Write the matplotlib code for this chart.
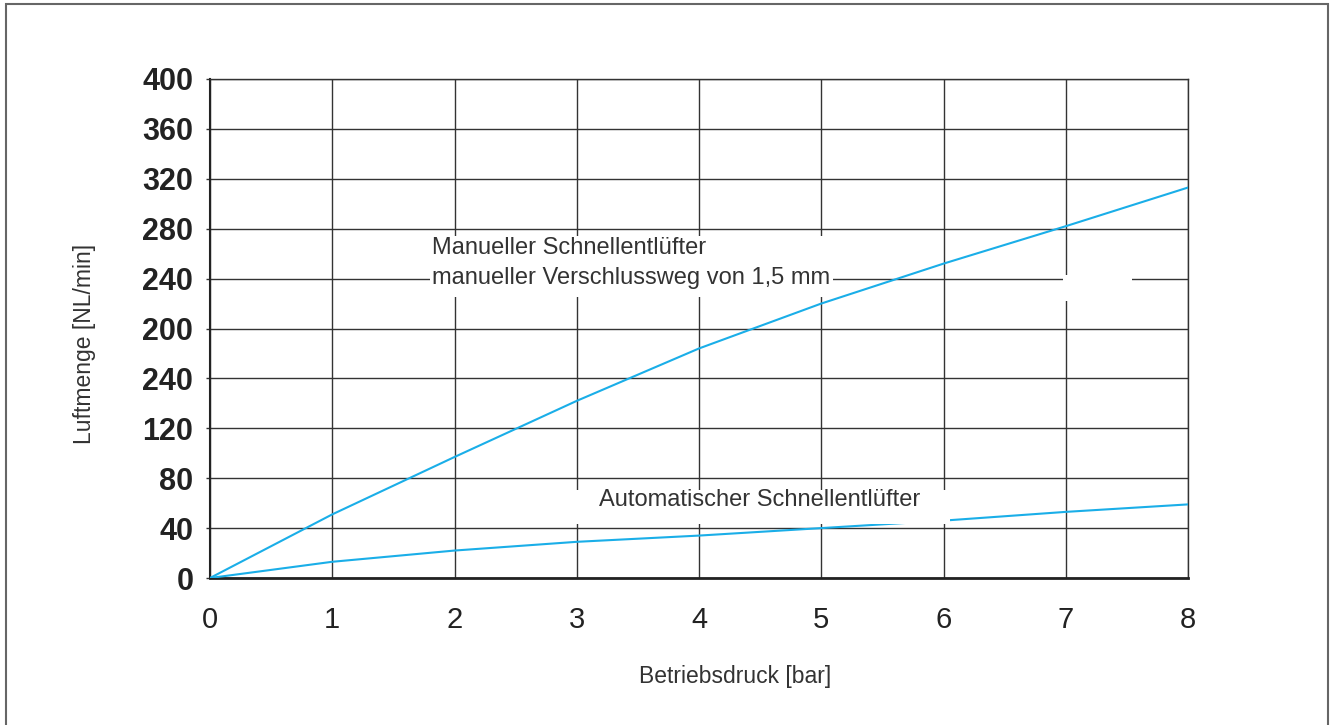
import matplotlib
matplotlib.use("Agg")
import matplotlib.pyplot as plt
from matplotlib.patches import Rectangle

plt.rcParams['font.family'] = ['Liberation Sans', 'DejaVu Sans']

pressure = [0, 1, 2, 3, 4, 5, 6, 7, 8]
manual_flow = [0, 51, 97, 142, 184, 220, 252, 282, 313]
auto_flow = [0, 13, 22, 29, 34, 40, 46, 53, 59]

x_ticks = [0, 1, 2, 3, 4, 5, 6, 7, 8]
y_ticks = [0, 40, 80, 120, 160, 200, 240, 280, 320, 360, 400]
y_tick_labels = ['0', '40', '80', '120', '240', '200', '240', '280', '320', '360', '400']

label_manual = "Manueller Schnellentlüfter\nmanueller Verschlussweg von 1,5 mm"
label_auto = "Automatischer Schnellentlüfter"

W, H = 1335, 725
fig = plt.figure(figsize=(W / 100, H / 100), dpi=100)
fig.patch.set_facecolor('white')

# outer frame (bottom edge lies outside the image)
fig.add_artist(Rectangle((6 / W, -10 / H), (1328 - 6) / W, (H + 10 - 4) / H,
                         transform=fig.transFigure, fill=False,
                         edgecolor='#666666', linewidth=1.5))

ax = fig.add_axes([210 / W, (H - 578) / H, (1188 - 210) / W, (578 - 79) / H])
ax.set_xlim(0, 8)
ax.set_ylim(0, 400)

blue = '#1aaee8'
ax.plot(pressure, manual_flow, color=blue, lw=1.5, zorder=3)
ax.plot(pressure, auto_flow, color=blue, lw=1.5, zorder=3)

ax.set_xticks(x_ticks)
ax.set_yticks(y_ticks)
ax.set_xticklabels([str(v) for v in x_ticks], fontsize=21, color='#222222')
ax.set_yticklabels(y_tick_labels, fontsize=22, fontweight='bold', color='#222222')
ax.tick_params(axis='x', length=0, pad=20)
ax.tick_params(axis='y', length=3, width=1, direction='out', pad=9, color='#333333')

ax.grid(True, color='#333333', lw=1, zorder=1)
ax.set_axisbelow(True)
for s in ['top', 'right']:
    ax.spines[s].set_color('#333333')
    ax.spines[s].set_linewidth(1)
ax.spines['left'].set_color('#222222')
ax.spines['left'].set_linewidth(1.5)
ax.spines['bottom'].set_color('#222222')
ax.spines['bottom'].set_linewidth(2)

# white masks behind annotations
for (x0, y0, x1, y1) in [(1.80, 225, 5.10, 274), (6.98, 222, 7.54, 243), (2.99, 43.5, 6.05, 70.5)]:
    ax.add_patch(Rectangle((x0, y0), x1 - x0, y1 - y0, facecolor='white',
                           edgecolor='none', zorder=4))

ax.text(1.812, 252.5, label_manual, fontsize=17, color='#333333', va='center',
        ha='left', linespacing=1.45, zorder=5)
ax.text(3.18, 62.5, label_auto, fontsize=17, color='#333333', va='center',
        ha='left', zorder=5)

fig.text(85 / W, 1 - 344 / H, "Luftmenge [NL/min]", rotation=90, fontsize=16.5,
         color='#333333', ha='center', va='center')
fig.text(735 / W, 1 - 677 / H, "Betriebsdruck [bar]", fontsize=16.5,
         color='#333333', ha='center', va='center')

fig.savefig('out.png', dpi=100, facecolor='white')
